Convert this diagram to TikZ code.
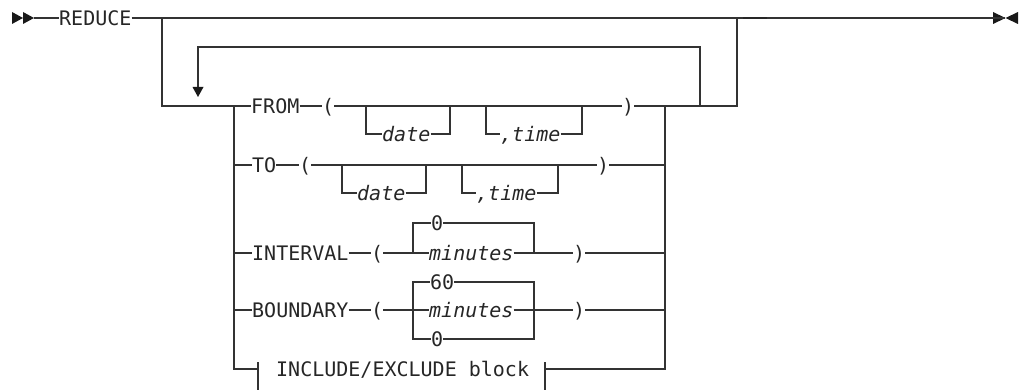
\documentclass[tikz,border=0pt]{standalone}
\usepackage{fontspec}
\setmonofont{DejaVu Sans Mono}
\usetikzlibrary{arrows.meta}
\tikzset{
  tok/.style={inner sep=0pt, anchor=west, font=\ttfamily\fontsize{20}{24}\selectfont, text height=14.5pt, text depth=0pt, text=black!85},
  itok/.style={tok, font=\ttfamily\itshape\fontsize{20}{24}\selectfont},
  rail/.style={line width=1.2pt, draw=black!80},
  tip/.style={fill=black!90},
}
\begin{document}
\begin{tikzpicture}[x=1pt,y=-1pt]
\useasboundingbox (0,0) rectangle (1028,390);
% start / end markers
\fill[tip] (12,12) -- (23,18) -- (12,24) -- cycle;
\fill[tip] (23,12) -- (34,18) -- (23,24) -- cycle;
\fill[tip] (993,12) -- (1005.5,18) -- (993,24) -- cycle;
\fill[tip] (1018,12) -- (1005.5,18) -- (1018,24) -- cycle;
\coordinate (start) at (34,18);
\coordinate (finish) at (1005,18);
\node[tok] (reduce) at (59,18) {REDUCE};
\draw[rail] (start) -- (reduce.west);
\draw[rail] (reduce.east) -- (finish);
\draw[line width=2.4pt, draw=black!85] (743,18) -- (767,18);
% branch into repeat group
\coordinate (br) at (162,18);
\coordinate (lv) at (234,106);
\coordinate (rv) at (665,106);
\coordinate (lr) at (700,106);
\coordinate (orr) at (737,106);
\coordinate (ort) at (737,18);
\draw[rail] (br) |- (lv);
% repeat loop
\coordinate (lt) at (198,47);
\draw[rail] (lr) -- (700,47) -- (lt) -- (198,88);
\fill[tip] (192.5,87) -- (203.5,87) -- (198,97) -- cycle;
% FROM row
\node[tok] (from) at (251,106) {FROM};
\node[tok] (lp1) at (322,106) {(};
\node[tok] (rp1) at (622,106) {)};
\node[itok] (date1) at (382,134) {date};
\node[itok] (time1) at (500,134) {,time};
\draw[rail] (lv) -- (from.west);
\draw[rail] (from.east) -- (lp1.west);
\draw[rail] (lp1.east) -- (rp1.west);
\draw[rail] (rp1.east) -- (orr) -- (ort);
\draw[rail] (366,106) |- (date1.west);
\draw[rail] (date1.east) -| (450,106);
\draw[rail] (486,106) |- (time1.west);
\draw[rail] (time1.east) -| (582,106);
% TO row
\node[tok] (to) at (252,165) {TO};
\node[tok] (lp2) at (299,165) {(};
\node[tok] (rp2) at (597,165) {)};
\node[itok] (date2) at (357,193) {date};
\node[itok] (time2) at (476,193) {,time};
\draw[rail] (234,165) -- (to.west);
\draw[rail] (to.east) -- (lp2.west);
\draw[rail] (lp2.east) -- (rp2.west);
\draw[rail] (rp2.east) -- (665,165);
\draw[rail] (342,165) |- (date2.west);
\draw[rail] (date2.east) -| (426,165);
\draw[rail] (462,165) |- (time2.west);
\draw[rail] (time2.east) -| (558,165);
% INTERVAL row
\node[tok] (interval) at (252,253) {INTERVAL};
\node[tok] (lp3) at (371,253) {(};
\node[tok] (rp3) at (573,253) {)};
\node[itok] (min1) at (429,253) {minutes};
\node[tok] (zero1) at (431,223) {0};
\draw[rail] (234,253) -- (interval.west);
\draw[rail] (interval.east) -- (lp3.west);
\draw[rail] (lp3.east) -- (min1.west);
\draw[rail] (min1.east) -- (rp3.west);
\draw[rail] (rp3.east) -- (665,253);
\draw[rail] (413,253) |- (zero1.west);
\draw[rail] (zero1.east) -| (534,253);
% BOUNDARY row
\node[tok] (boundary) at (252,310) {BOUNDARY};
\node[tok] (lp4) at (371,310) {(};
\node[tok] (rp4) at (573,310) {)};
\node[itok] (min2) at (429,310) {minutes};
\node[tok] (sixty) at (430,282) {60};
\node[tok] (zero2) at (431,339) {0};
\draw[rail] (234,310) -- (boundary.west);
\draw[rail] (boundary.east) -- (lp4.west);
\draw[rail] (lp4.east) -- (min2.west);
\draw[rail] (min2.east) -- (rp4.west);
\draw[rail] (rp4.east) -- (665,310);
\draw[rail] (sixty.west) -| (413,339) -- (zero2.west);
\draw[rail] (sixty.east) -| (534,339) -- (zero2.east);
% INCLUDE/EXCLUDE block row
\node[tok] (incl) at (276,369) {INCLUDE/EXCLUDE block};
\coordinate (tl) at (258,369);
\coordinate (tr) at (545,369);
\draw[rail] (lv) -- (234,369) -- (tl);
\draw[rail] (258,362) -- (258,390);
\draw[rail] (545,362) -- (545,390);
\draw[rail] (tr) -- (665,369) -- (rv);
\draw[rail] (rv) -- (lr);
\end{tikzpicture}
\end{document}
